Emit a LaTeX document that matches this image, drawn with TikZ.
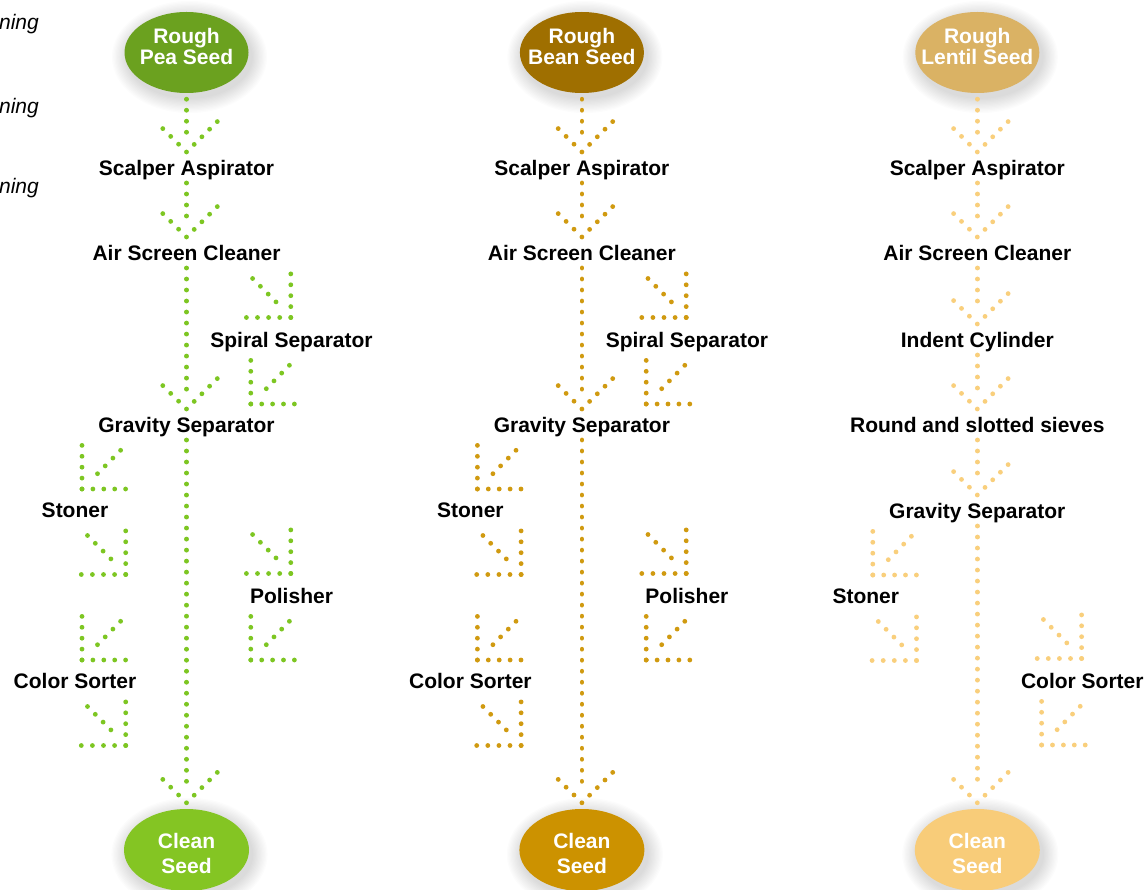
\documentclass[tikz,border=0pt]{standalone}
\usepackage{fontspec}
\setmainfont{Liberation Sans}
\usetikzlibrary{calc,shapes.geometric}

\definecolor{peaTop}{HTML}{6BA11F}
\definecolor{peaEnd}{HTML}{84C523}
\definecolor{peaDot}{HTML}{7DC622}
\definecolor{beanTop}{HTML}{9F6F00}
\definecolor{beanEnd}{HTML}{CC9200}
\definecolor{beanDot}{HTML}{D09A10}
\definecolor{lentTop}{HTML}{DAB264}
\definecolor{lentEnd}{HTML}{F8CC79}
\definecolor{lentDot}{HTML}{F9CF7C}

\newcommand\dotr{2.4pt}

\tikzset{
  lbl/.style={font=\bfseries\fontsize{21}{24}\selectfont, inner sep=0pt, anchor=base, text=black},
  sidenote/.style={font=\itshape\fontsize{21}{24}\selectfont, inner sep=0pt, anchor=base east, text=black},
  seed/.style={ellipse, draw=none, minimum width=124, minimum height=81, inner sep=0pt},
  seedtxt/.style={font=\bfseries\fontsize{21}{21.5}\selectfont, align=center, inner sep=0pt, text=white},
  endtxt/.style={font=\bfseries\fontsize{21}{25.4}\selectfont, align=center, inner sep=0pt, text=white},
  dotline/.style={line width=4.8pt, line cap=round, dash pattern=on 0.01pt off 11pt},
}

% soft halo under an ellipse: #1 centre, #2 x radius, #3 y radius
\newcommand\softshadow[3]{%
  \foreach \k in {1,...,12} {%
    \fill[black,opacity=0.012] ($#1+(3,4.5)$) ellipse[x radius={#2pt+\k*1.3pt}, y radius={#3pt+\k*1.3pt}];}%
}

% dotted shaft plus dotted chevron: #1 start, #2 apex, #3 colour
\newcommand\mainflow[3]{%
  \coordinate (fs) at #1;
  \coordinate (fa) at #2;
  \draw[dotline,#3] (fs) -- ($(fa)+(0,-19)$);
  \foreach \k in {0,...,3} {\fill[#3] ($(fa)+\k*(-7.9,-7.8)$) circle[radius=\dotr];}
  \foreach \k in {1,...,4} {\fill[#3] ($(fa)+\k*(7.7,-7.6)$) circle[radius=\dotr];}
}

% bent arrow pointing down-right, corner #1
\newcommand\bendDR[2]{%
  \coordinate (bc) at #1;
  \foreach \k in {0,...,4} {%
    \fill[#2] ($(bc)+\k*(0,-10.9)$) circle[radius=\dotr];
    \fill[#2] ($(bc)+\k*(-11.1,0)$) circle[radius=\dotr];}
  \foreach \k in {0,...,3} {\fill[#2] ($(bc)+(-38.2,-39)+\k*(7.8,7.8)$) circle[radius=\dotr];}
}

% bent arrow pointing down-left, corner #1
\newcommand\bendDL[2]{%
  \coordinate (bc) at #1;
  \foreach \k in {0,...,4} {%
    \fill[#2] ($(bc)+\k*(0,-10.9)$) circle[radius=\dotr];
    \fill[#2] ($(bc)+\k*(10.9,0)$) circle[radius=\dotr];}
  \foreach \k in {0,...,3} {\fill[#2] ($(bc)+(38.6,-38.7)+\k*(-7.7,7.8)$) circle[radius=\dotr];}
}

% detour to the right of the main line through label #1
\newcommand\rightdetour[2]{%
  \bendDR{($(#1.base)+(-0.7,-30)$)}{#2}
  \bendDL{($(#1.base)+(-40.7,56.5)$)}{#2}
}
% detour to the left of the main line through label #1
\newcommand\leftdetour[2]{%
  \bendDL{($(#1.base)+(7,-28.5)$)}{#2}
  \bendDR{($(#1.base)+(50.7,57)$)}{#2}
}

% start and end ellipses of a line: #1 prefix, #2 top colour, #3 end colour, #4 second word line
\newcommand\seedends[4]{%
  \softshadow{(0,52.5)}{62}{40.5}
  \node[seed, fill=#2] (#1top) at (0,52.5) {};
  \node[seedtxt] (#1toptxt) at (0,46.3) {Rough\\#4};
  \softshadow{(0,850)}{62.5}{41}
  \node[seed, fill=#3, minimum width=125, minimum height=82] (#1end) at (0,850) {};
  \node[endtxt] (#1endtxt) at (0,853.4) {Clean\\Seed};
}

% processing line for peas and beans: #1 prefix, #2 x, #3 top, #4 end, #5 dots, #6 crop
\newcommand\pulseline[6]{%
  \begin{scope}[shift={(#2,0)}]
    \seedends{#1}{#3}{#4}{#6}
    \node[lbl] (#1scal) at (0,175.5) {Scalper Aspirator};
    \node[lbl] (#1air)  at (0,260.5) {Air Screen Cleaner};
    \node[lbl] (#1spir) at (105,347.5) {Spiral Separator};
    \node[lbl] (#1grav) at (0,432.5) {Gravity Separator};
    \node[lbl] (#1ston) at (-111.5,517.5) {Stoner};
    \node[lbl] (#1pol)  at (105,603.5) {Polisher};
    \node[lbl] (#1col)  at (-111.5,688.5) {Color Sorter};
    \mainflow{($(#1top.south)+(0,6)$)}{($(#1scal.base)+(0,-23.5)$)}{#5}
    \mainflow{($(#1scal.base)+(0,7.5)$)}{($(#1air.base)+(0,-23.5)$)}{#5}
    \mainflow{($(#1air.base)+(0,7.5)$)}{($(#1grav.base)+(0,-23.5)$)}{#5}
    \mainflow{($(#1grav.base)+(0,7.5)$)}{($(#1end.north)+(0,-6)$)}{#5}
    \rightdetour{#1spir}{#5}
    \leftdetour{#1ston}{#5}
    \rightdetour{#1pol}{#5}
    \leftdetour{#1col}{#5}
  \end{scope}
}

\begin{document}
\begin{tikzpicture}[x=1pt,y=-1pt]
  \useasboundingbox (0,0) rectangle (1147,890);
  \fill[white] (0,0) rectangle (1147,890);

  \node[sidenote] (noteA) at (39,30) {ning};
  \node[sidenote] (noteB) at (39,114) {ning};
  \node[sidenote] (noteC) at (39,194) {ning};

  \pulseline{p}{186.5}{peaTop}{peaEnd}{peaDot}{Pea Seed}
  \pulseline{b}{581.9}{beanTop}{beanEnd}{beanDot}{Bean Seed}

  % lentil line
  \begin{scope}[shift={(977.3,0)}]
    \seedends{l}{lentTop}{lentEnd}{Lentil Seed}
    \node[lbl] (lscal) at (0,175.5) {Scalper Aspirator};
    \node[lbl] (lair)  at (0,260.5) {Air Screen Cleaner};
    \node[lbl] (lind)  at (0,347.5) {Indent Cylinder};
    \node[lbl] (lrnd)  at (0,432.5) {Round and slotted sieves};
    \node[lbl] (lgrav) at (0,518.5) {Gravity Separator};
    \node[lbl] (lston) at (-111.5,603.5) {Stoner};
    \node[lbl] (lcol)  at (105,688.5) {Color Sorter};
    \mainflow{($(ltop.south)+(0,6)$)}{($(lscal.base)+(0,-23.5)$)}{lentDot}
    \mainflow{($(lscal.base)+(0,7.5)$)}{($(lair.base)+(0,-23.5)$)}{lentDot}
    \mainflow{($(lair.base)+(0,7.5)$)}{($(lind.base)+(0,-23.5)$)}{lentDot}
    \mainflow{($(lind.base)+(0,7.5)$)}{($(lrnd.base)+(0,-23.5)$)}{lentDot}
    \mainflow{($(lrnd.base)+(0,7.5)$)}{($(lgrav.base)+(0,-23.5)$)}{lentDot}
    \mainflow{($(lgrav.base)+(0,7.5)$)}{($(lend.north)+(0,-6)$)}{lentDot}
    \leftdetour{lston}{lentDot}
    \rightdetour{lcol}{lentDot}
  \end{scope}
\end{tikzpicture}
\end{document}
